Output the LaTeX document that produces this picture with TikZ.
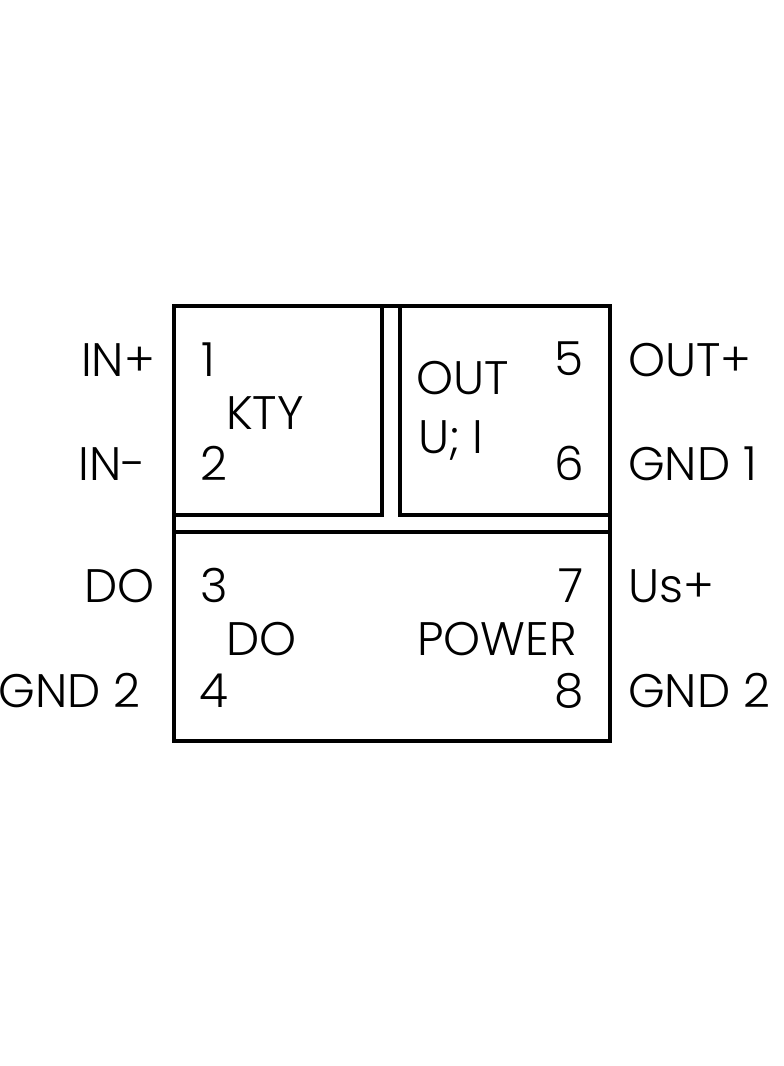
\documentclass[tikz,border=0pt]{standalone}
\usepackage{fontspec}
\setmainfont{Poppins}[UprightFont={* Light}]
\begin{document}
\begin{tikzpicture}[x=1pt,y=-1pt,
  lbl/.style={inner sep=0pt,font=\fontsize{47}{50}\selectfont},
  frame/.style={line width=3.3pt,line join=miter}]
\useasboundingbox (0,0) rectangle (784,1066);
% boxes
\draw[frame] (174,306) rectangle (382,515);
\draw[frame] (400,306) rectangle (610,515);
\draw[frame] (174,532) rectangle (610,741);
\draw[frame] (174,306) -- (610,306);
\draw[frame] (174,306) -- (174,532);
\draw[frame] (610,306) -- (610,532);
% outer labels left
\node[lbl,anchor=base east] (inp) at (155,376) {IN+};
\node[lbl,anchor=base east] (inm) at (146,480) {IN-};
\node[lbl,anchor=base east] (dol) at (155,602) {DO};
\node[lbl,anchor=base east] (g2l) at (141,707) {GND 2};
% outer labels right
\node[lbl,anchor=base west] (outp) at (628,376) {OUT+};
\node[lbl,anchor=base west] (g1) at (628,480) {GND 1};
\node[lbl,anchor=base west] (usp) at (628,602) {Us+};
\node[lbl,anchor=base west] (g2r) at (628,707) {GND 2};
% numbers
\node[lbl,anchor=base west] (n1) at (201,376) {1};
\node[lbl,anchor=base west] (n2) at (200,480) {2};
\node[lbl,anchor=base west] (n3) at (200,602) {3};
\node[lbl,anchor=base west] (n4) at (199,707) {4};
\node[lbl,anchor=base east] (n5) at (584,375) {5};
\node[lbl,anchor=base east] (n6) at (584,480) {6};
\node[lbl,anchor=base east] (n7) at (584,602) {7};
\node[lbl,anchor=base east] (n8) at (584,707) {8};
% inner labels
\node[lbl,anchor=base west] (kty) at (226,429) {KTY};
\node[lbl,anchor=base west] (out) at (416,394) {OUT};
\node[lbl,anchor=base west] (ui) at (418,453) {U; I};
\node[lbl,anchor=base west] (doi) at (226,655) {DO};
\node[lbl,anchor=base west] (pow) at (417,655) {POWER};
\end{tikzpicture}
\end{document}
